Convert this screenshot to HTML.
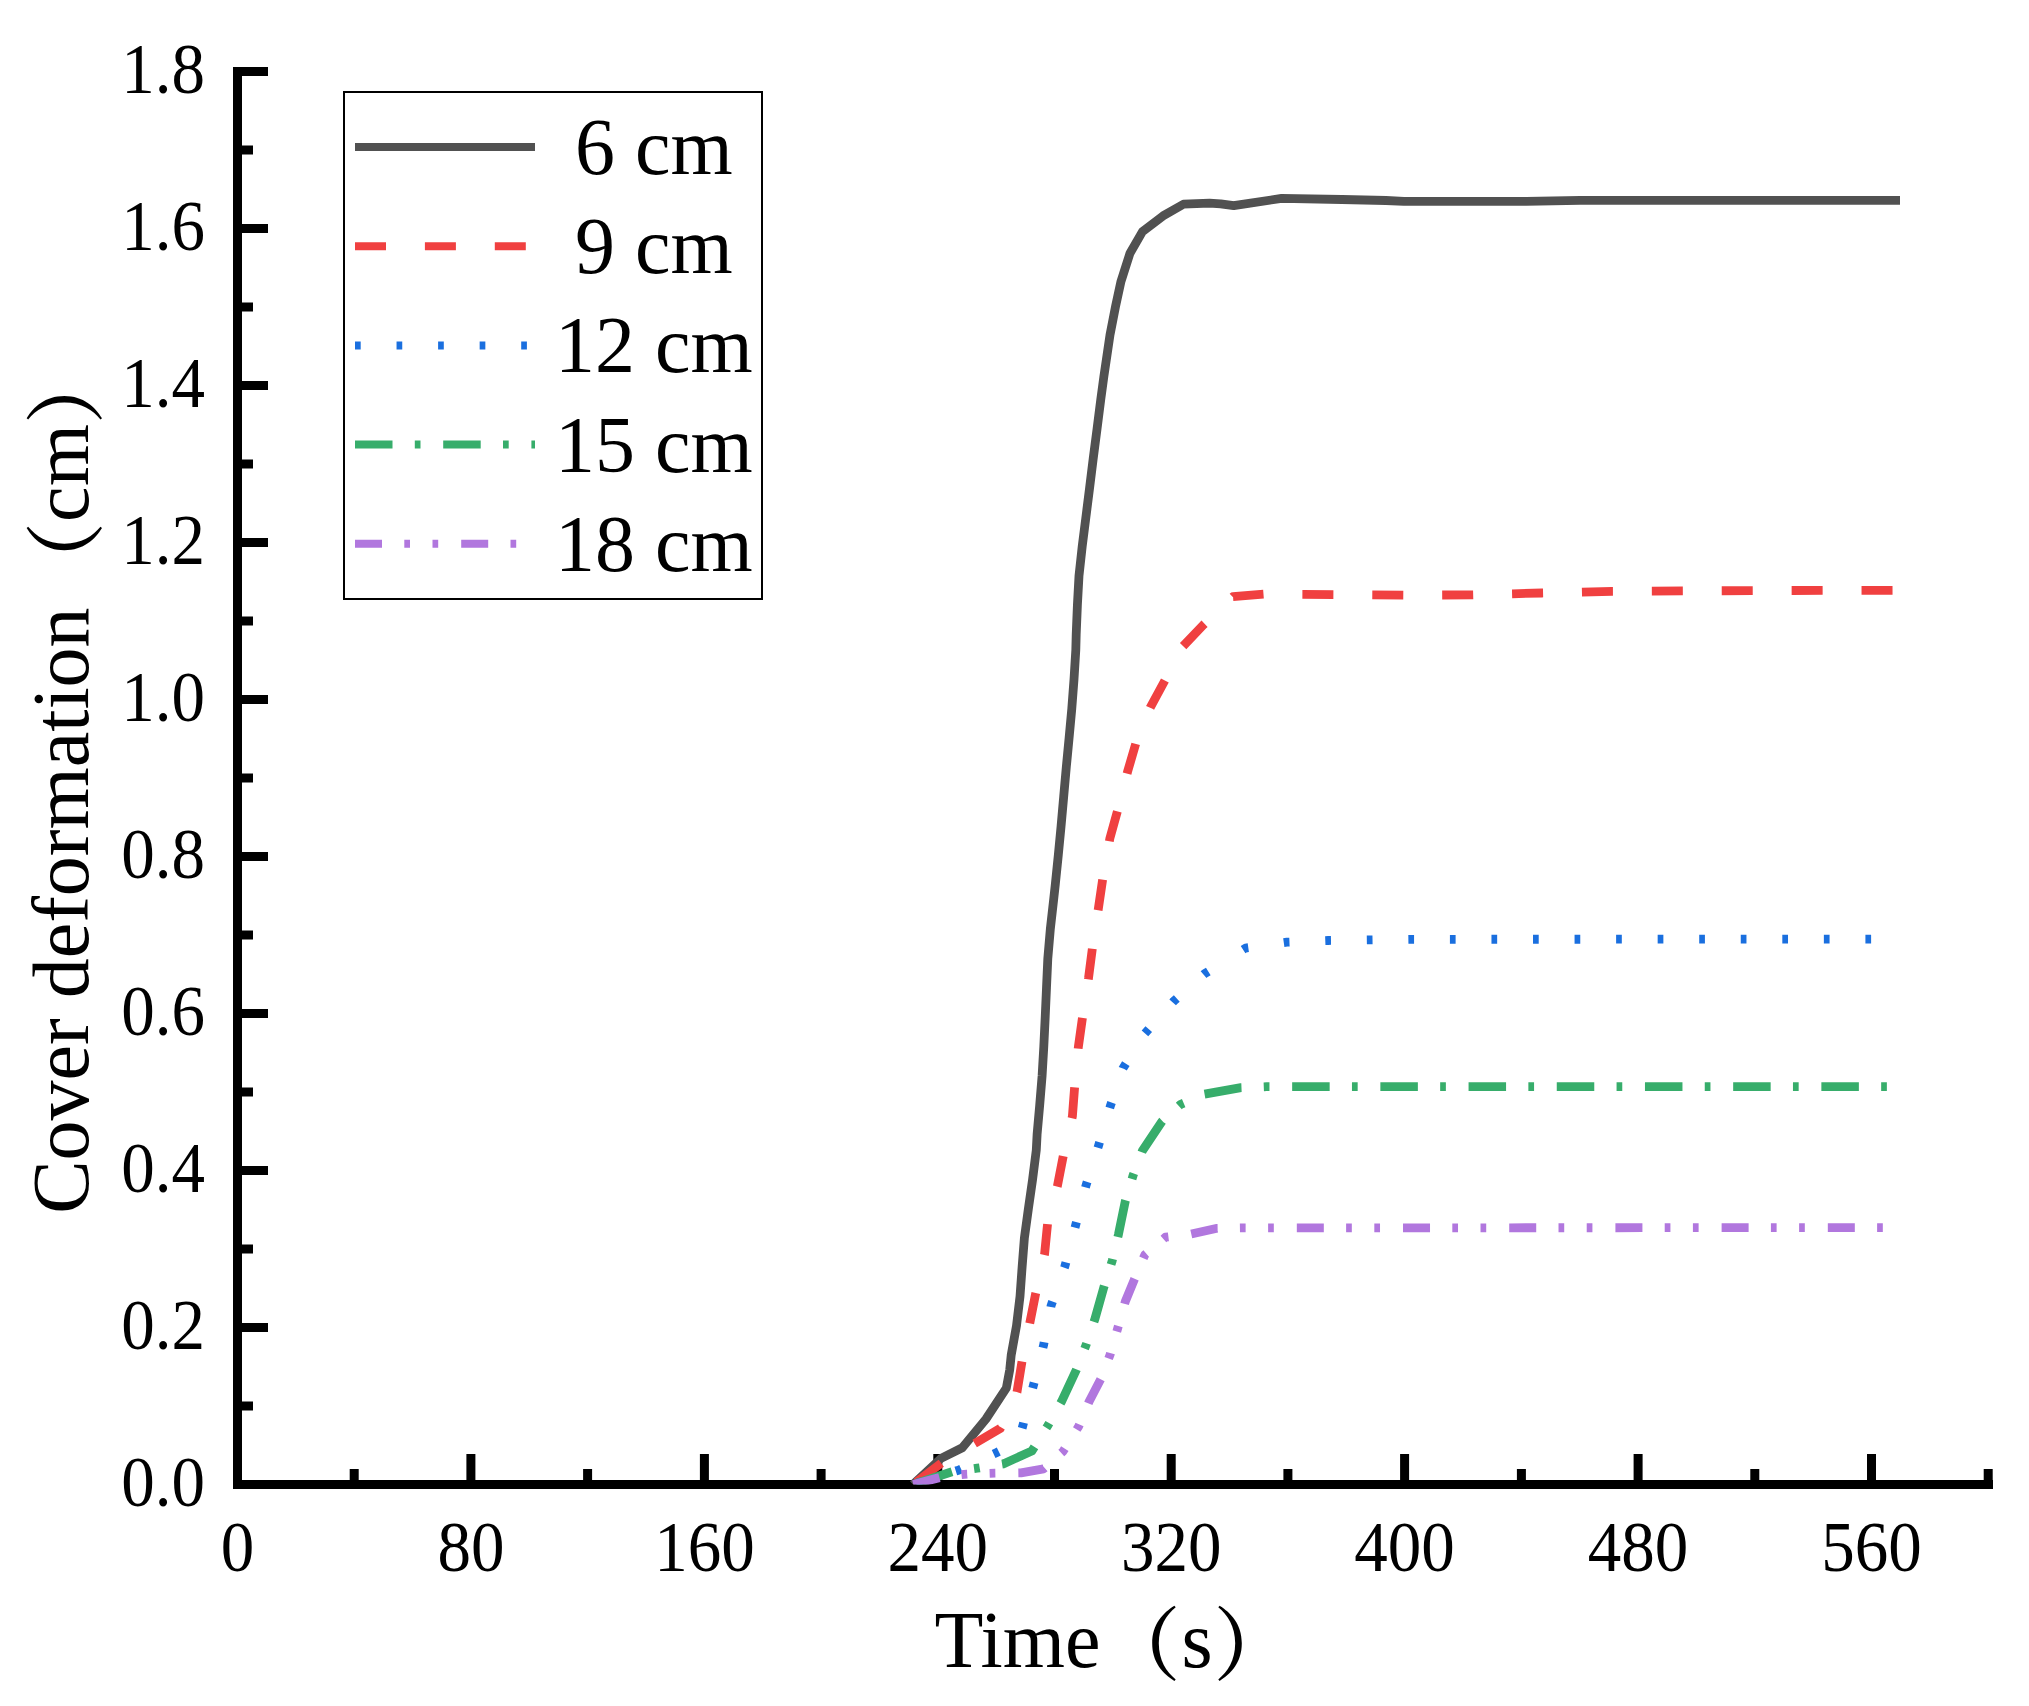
<!DOCTYPE html>
<html lang="en"><head><meta charset="utf-8"><title>Cover deformation vs time</title>
<style>html,body{margin:0;padding:0;background:#fff}svg{display:block}text{font-family:'Liberation Serif','Noto Serif CJK SC',serif;fill:#000}</style></head><body>
<svg width="2029" height="1706" viewBox="0 0 2029 1706">
<rect x="0" y="0" width="2029" height="1706" fill="#ffffff"/>
<g stroke="#000" stroke-width="9" fill="none" stroke-linecap="butt">
<path d="M237.5 67.0 L237.5 1484.5 L1993.0 1484.5"/>
<path d="M237.5 1406.0 H253 M237.5 1327.5 H268 M237.5 1249.0 H253 M237.5 1170.5 H268 M237.5 1092.0 H253 M237.5 1013.5 H268 M237.5 935.0 H253 M237.5 856.5 H268 M237.5 778.0 H253 M237.5 699.5 H268 M237.5 621.0 H253 M237.5 542.5 H268 M237.5 464.0 H253 M237.5 385.5 H268 M237.5 307.0 H253 M237.5 228.5 H268 M237.5 150.0 H253 M237.5 71.5 H268 M354.2 1484.5 V1469 M470.9 1484.5 V1454 M587.6 1484.5 V1469 M704.4 1484.5 V1454 M821.1 1484.5 V1469 M937.8 1484.5 V1454 M1054.5 1484.5 V1469 M1171.2 1484.5 V1454 M1287.9 1484.5 V1469 M1404.6 1484.5 V1454 M1521.4 1484.5 V1469 M1638.1 1484.5 V1454 M1754.8 1484.5 V1469 M1871.5 1484.5 V1454 M1988.2 1484.5 V1469"/>
</g>
<defs><clipPath id="plotclip"><rect x="237.5" y="71.5" width="1755.5" height="1413.0"/></clipPath></defs>
<g clip-path="url(#plotclip)" fill="none" stroke-width="8.8" stroke-linejoin="round">
<polyline stroke="#515151" points="913.0,1484.5 941.0,1458.4 962.3,1447.8 986.0,1419.0 1006.3,1388.2 1009.7,1370.0 1011.2,1355.1 1016.5,1325.8 1020.0,1296.5 1022.1,1267.2 1024.4,1237.9 1028.4,1208.6 1032.6,1179.3 1036.3,1150.0 1037.1,1134.4 1039.7,1105.1 1042.1,1075.8 1043.8,1046.5 1045.2,1017.2 1046.5,987.9 1047.8,958.6 1050.3,929.3 1053.6,900.0 1055.3,884.4 1058.3,855.1 1061.1,825.8 1063.7,796.5 1066.3,767.2 1069.1,737.9 1071.8,708.6 1074.0,679.3 1075.8,650.0 1076.2,634.4 1077.4,605.1 1079.0,575.8 1082.2,546.5 1085.9,517.2 1089.6,487.9 1093.2,458.6 1097.0,429.3 1100.7,400.0 1103.8,377.0 1110.0,334.8 1115.5,306.7 1121.0,281.3 1130.0,253.2 1142.6,231.4 1163.0,215.9 1183.4,204.2 1209.5,203.2 1220.7,203.9 1233.7,205.7 1281.6,198.4 1342.0,199.5 1386.0,200.5 1404.0,201.4 1526.0,201.4 1580.0,200.4 1900.0,200.3"/>
<polyline stroke="#F04040" stroke-dasharray="31 38.9" stroke-dashoffset="-4.3" points="913.0,1484.5 942.6,1462.3 1000.3,1428.4 1010.0,1412.0 1017.0,1392.0 1022.0,1361.4 1029.8,1323.0 1035.7,1293.4 1044.6,1254.0 1047.6,1223.4 1057.4,1186.0 1063.5,1154.7 1072.4,1116.3 1074.7,1086.1 1078.3,1047.3 1082.6,1016.7 1088.5,978.3 1092.5,947.3 1098.4,908.3 1102.9,877.7 1109.8,838.7 1117.7,810.1 1127.6,771.6 1135.9,743.1 1150.2,707.6 1164.6,681.0 1182.8,646.5 1203.5,624.8 1233.0,596.6 1263.6,594.2 1334.0,594.6 1404.0,595.2 1473.0,594.8 1542.0,593.0 1612.0,591.3 1752.0,590.6 1900.0,590.3"/>
<polyline stroke="#1A6FDF" stroke-dasharray="5.7 35.85" stroke-dashoffset="-3.3" points="913.0,1484.5 958.5,1470.2 996.3,1452.7 1018.5,1441.5 1022.9,1425.4 1033.4,1385.4 1043.6,1345.0 1051.1,1305.6 1064.9,1266.2 1075.6,1225.3 1086.0,1185.5 1098.6,1145.5 1110.4,1105.8 1123.0,1068.2 1143.9,1034.5 1173.9,1001.0 1204.5,973.8 1225.0,961.0"/>
<polyline stroke="#1A6FDF" stroke-dasharray="5.7 35.85" stroke-dashoffset="20.2" points="1225.0,961.0 1245.5,948.1 1286.9,942.2 1328.3,940.5 1411.0,939.3 1900.0,939.1"/>
<polyline stroke="#37AD6B" stroke-dasharray="37.5 22.3 5.7 22.7" stroke-dashoffset="-3.5" points="913.0,1484.5 952.0,1471.8 977.2,1468.2 1003.2,1463.9 1031.8,1451.1 1047.6,1426.0 1061.4,1401.8 1076.2,1370.2 1086.0,1345.2 1094.9,1319.0 1103.8,1287.4 1112.2,1260.8 1118.5,1234.2 1125.4,1200.7 1133.1,1175.4 1142.4,1150.8 1162.1,1121.2 1180.4,1104.5 1204.5,1094.2 1240.9,1087.7 1266.6,1086.7 1329.6,1086.6 1900.0,1086.6"/>
<polyline stroke="#B177DE" stroke-dasharray="27 22.3 5.7 22.5 5.7 23" stroke-dashoffset="-0.3" points="913.0,1484.5 943.0,1476.7 967.1,1474.1 994.9,1473.2 1021.0,1472.8 1043.6,1468.8 1063.0,1451.5 1078.7,1426.4 1089.0,1401.8 1100.8,1379.1 1110.3,1354.1 1118.0,1327.3 1125.4,1301.2 1134.3,1279.6 1144.8,1254.9 1165.5,1237.2 1190.5,1234.2 1217.1,1228.3 1243.1,1227.9 1900.0,1227.6"/>
</g>
<g font-size="67">
<text transform="translate(205 1505.5) scale(1 1.07)" text-anchor="end">0.0</text>
<text transform="translate(205 1348.5) scale(1 1.07)" text-anchor="end">0.2</text>
<text transform="translate(205 1191.5) scale(1 1.07)" text-anchor="end">0.4</text>
<text transform="translate(205 1034.5) scale(1 1.07)" text-anchor="end">0.6</text>
<text transform="translate(205 877.5) scale(1 1.07)" text-anchor="end">0.8</text>
<text transform="translate(205 720.5) scale(1 1.07)" text-anchor="end">1.0</text>
<text transform="translate(205 563.5) scale(1 1.07)" text-anchor="end">1.2</text>
<text transform="translate(205 406.5) scale(1 1.07)" text-anchor="end">1.4</text>
<text transform="translate(205 249.5) scale(1 1.07)" text-anchor="end">1.6</text>
<text transform="translate(205 92.5) scale(1 1.07)" text-anchor="end">1.8</text>
<text transform="translate(237.5 1571) scale(1 1.07)" text-anchor="middle">0</text>
<text transform="translate(470.9 1571) scale(1 1.07)" text-anchor="middle">80</text>
<text transform="translate(704.4 1571) scale(1 1.07)" text-anchor="middle">160</text>
<text transform="translate(937.8 1571) scale(1 1.07)" text-anchor="middle">240</text>
<text transform="translate(1171.2 1571) scale(1 1.07)" text-anchor="middle">320</text>
<text transform="translate(1404.6 1571) scale(1 1.07)" text-anchor="middle">400</text>
<text transform="translate(1638.1 1571) scale(1 1.07)" text-anchor="middle">480</text>
<text transform="translate(1871.5 1571) scale(1 1.07)" text-anchor="middle">560</text>
</g>
<text x="1114" y="1666.6" font-size="80" text-anchor="middle">Time<tspan dy="6" font-weight="600">（</tspan><tspan dy="-6" dx="1">s</tspan><tspan dy="6" dx="1" font-weight="600">）</tspan></text>
<text transform="translate(88 779) rotate(-90)" font-size="80" text-anchor="middle">Cover deformation<tspan dy="6" dx="5.5" font-weight="600">（</tspan><tspan dy="-6">cm</tspan><tspan dy="6" font-weight="600">）</tspan></text>
<rect x="344" y="92" width="418" height="507" fill="#fff" stroke="#000" stroke-width="2"/>
<line x1="355" y1="147.0" x2="535" y2="147.0" stroke="#515151" stroke-width="8"/>
<text transform="translate(575 173.6) scale(1 1.015)" font-size="80">6 cm</text>
<line x1="355" y1="246.2" x2="535" y2="246.2" stroke="#F04040" stroke-width="8" stroke-dasharray="31 38.9"/>
<text transform="translate(575 272.9) scale(1 1.015)" font-size="80">9 cm</text>
<line x1="355" y1="345.4" x2="535" y2="345.4" stroke="#1A6FDF" stroke-width="8" stroke-dasharray="5.7 35.85"/>
<text transform="translate(555 372.2) scale(1 1.015)" font-size="80">12 cm</text>
<line x1="355" y1="444.6" x2="535" y2="444.6" stroke="#37AD6B" stroke-width="8" stroke-dasharray="37.5 22.3 5.7 22.7"/>
<text transform="translate(555 471.5) scale(1 1.015)" font-size="80">15 cm</text>
<line x1="355" y1="543.8" x2="535" y2="543.8" stroke="#B177DE" stroke-width="8" stroke-dasharray="27 22.3 5.7 22.5 5.7 23"/>
<text transform="translate(555 570.8) scale(1 1.015)" font-size="80">18 cm</text>
</svg></body></html>
